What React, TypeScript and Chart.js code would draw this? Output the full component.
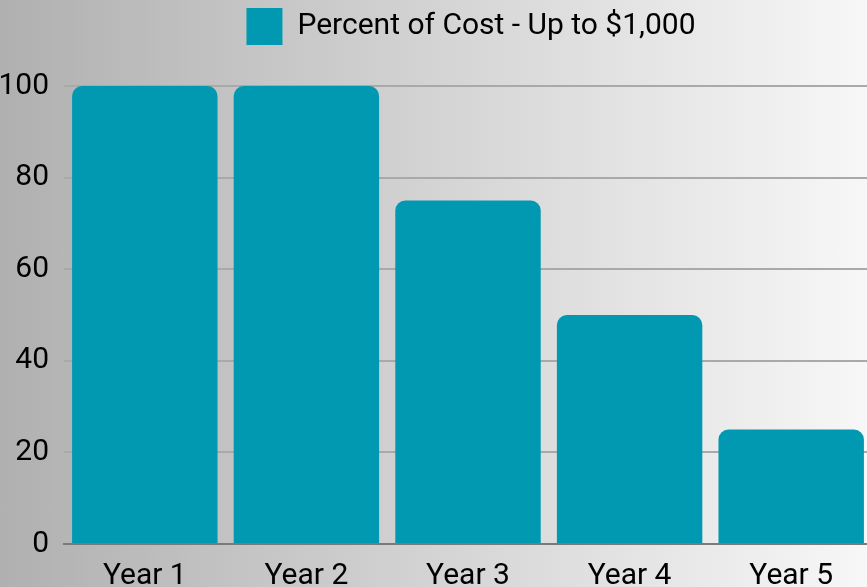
import React, { useEffect, useRef } from "react";
import { Chart, registerables } from "chart.js";

Chart.register(...registerables);

const categories = ["Year 1", "Year 2", "Year 3", "Year 4", "Year 5"];
const seriesLabel = "Percent of Cost - Up to $1,000";
const percentValues = [100, 100, 75, 50, 25];
const yTicks = [0, 20, 40, 60, 80, 100];

const FONT = "Roboto, 'Noto Sans', sans-serif";
const BAR_COLOR = "#0099b1";

const legendTweak = {
  id: "legendTweak",
  beforeInit(chart: any) {
    const legend = chart.legend;
    if (!legend) return;
    const origFit = legend.fit;
    legend.fit = function () {
      origFit.call(this);
      this.height += 31;
    };
    const origDraw = legend.draw;
    legend.draw = function (...args: any[]) {
      const c = chart.ctx;
      c.save();
      c.translate(35, 0);
      origDraw.apply(this, args);
      c.restore();
    };
  },
};

export default function App() {
  const ref = useRef<HTMLCanvasElement | null>(null);

  useEffect(() => {
    document.body.style.margin = "0";
    const ctx = ref.current!;
    const chart = new Chart(ctx, {
      type: "bar",
      data: {
        labels: categories,
        datasets: [
          {
            label: seriesLabel,
            data: percentValues,
            backgroundColor: BAR_COLOR,
            borderColor: BAR_COLOR,
            borderWidth: 0,
            borderRadius: 10,
            categoryPercentage: 1,
            barPercentage: 0.9,
          },
        ],
      },
      plugins: [legendTweak],
      options: {
        responsive: false,
        animation: false,
        layout: { padding: 0 },
        plugins: {
          tooltip: { enabled: false },
          legend: {
            position: "top",
            labels: {
              color: "#000",
              font: { family: FONT, size: 30 },
              boxWidth: 36,
              boxHeight: 37,
              padding: 8,
            },
          },
        },
        scales: {
          x: {
            grid: { display: false, drawTicks: false },
            border: { display: true, color: "#7a7a7a", width: 2 },
            ticks: {
              color: "#000",
              font: { family: FONT, size: 30 },
              padding: 14,
            },
          },
          y: {
            min: 0,
            max: 100,
            afterFit(axis: any) {
              axis.width = 64;
            },
            afterBuildTicks(axis: any) {
              axis.ticks = yTicks.map((v) => ({ value: v }));
            },
            grid: { color: "#a9a9a9", lineWidth: 2, drawTicks: false },
            border: { display: false },
            ticks: {
              color: "#000",
              font: { family: FONT, size: 30 },
              padding: 15,
            },
          },
        },
      },
    });
    return () => chart.destroy();
  }, []);

  return (
    <div
      style={{
        position: "fixed",
        left: 0,
        top: 0,
        width: 867,
        height: 587,
        overflow: "hidden",
        background: "linear-gradient(to right, #b0b0b0, #f7f7f7)",
      }}
    >
      <canvas ref={ref} width={872} height={608} style={{ display: "block" }} />
    </div>
  );
}
